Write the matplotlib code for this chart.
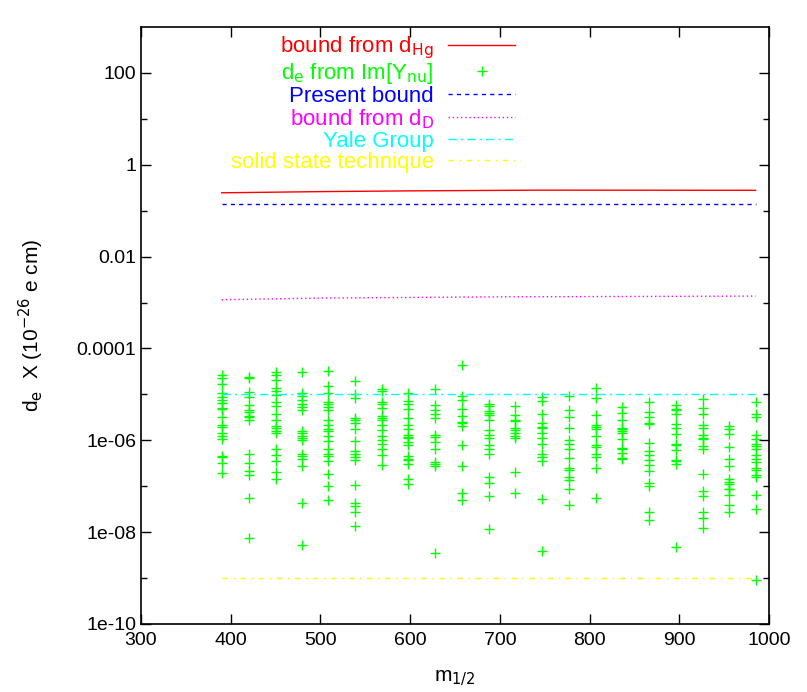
import matplotlib.pyplot as plt

plt.rcParams['font.family'] = ['Liberation Sans', 'DejaVu Sans']

# m_1/2 values of the scan columns
m_half = [390, 420, 450, 479, 509, 539, 569, 598, 628, 658, 688,
          717, 747, 777, 807, 836, 866, 896, 926, 955, 985]

# log10(d_e), one list per column
de_log10 = [
    [-4.57, -4.64, -4.78, -4.98, -5.05, -5.13, -5.19, -5.29, -5.31, -5.49,
     -5.66, -5.71, -5.84, -5.91, -5.98, -6.34, -6.36, -6.49, -6.72],
    [-4.62, -4.65, -4.95, -5.05, -5.24, -5.34, -5.38, -5.47, -5.50, -5.56,
     -6.30, -6.49, -6.67, -6.76, -7.25, -8.12],
    [-4.51, -4.57, -4.68, -4.87, -4.92, -5.02, -5.16, -5.26, -5.42, -5.56,
     -5.69, -5.74, -5.80, -5.85, -6.19, -6.32, -6.46, -6.69, -6.85],
    [-4.52, -4.98, -5.03, -5.13, -5.20, -5.27, -5.34, -5.80, -5.85, -5.91,
     -5.94, -6.00, -6.29, -6.35, -6.40, -6.56, -7.36, -8.29],
    [-4.49, -4.82, -4.98, -5.16, -5.20, -5.27, -5.34, -5.56, -5.67, -5.76,
     -5.80, -5.91, -6.02, -6.18, -6.29, -6.34, -6.46, -6.74, -6.99, -7.29],
    [-4.71, -5.00, -5.09, -5.51, -5.56, -5.63, -5.76, -6.02, -6.23, -6.29,
     -6.36, -6.42, -6.98, -7.36, -7.43, -7.56, -7.87],
    [-4.89, -4.93, -5.16, -5.20, -5.29, -5.47, -5.52, -5.56, -5.67, -5.78,
     -5.91, -6.00, -6.07, -6.18, -6.31, -6.54],
    [-4.96, -5.14, -5.21, -5.31, -5.52, -5.67, -5.76, -5.89, -5.93, -5.96,
     -6.03, -6.11, -6.35, -6.40, -6.43, -6.52, -6.85, -6.96],
    [-4.89, -5.24, -5.34, -5.43, -5.52, -5.89, -5.93, -6.03, -6.19, -6.47,
     -6.51, -6.56, -8.45],
    [-4.35, -5.04, -5.13, -5.32, -5.47, -5.60, -5.63, -5.69, -6.11, -6.56,
     -7.15, -7.29],
    [-5.21, -5.26, -5.36, -5.40, -5.45, -5.55, -5.78, -5.89, -5.96, -6.11,
     -6.20, -6.29, -6.80, -6.94, -7.22, -7.94],
    [-5.26, -5.45, -5.55, -5.58, -5.74, -5.78, -5.85, -5.91, -5.96, -6.69,
     -7.15],
    [-5.05, -5.14, -5.43, -5.63, -5.72, -5.74, -5.84, -5.94, -6.07, -6.30,
     -6.37, -6.45, -7.28, -8.42],
    [-5.04, -5.34, -5.49, -5.74, -6.00, -6.09, -6.18, -6.38, -6.61, -6.65,
     -6.80, -6.87, -7.05, -7.41],
    [-4.87, -5.09, -5.45, -5.66, -5.72, -5.76, -5.91, -6.11, -6.14, -6.30,
     -6.37, -6.61, -7.25],
    [-5.27, -5.40, -5.55, -5.73, -5.76, -5.80, -5.85, -5.98, -6.16, -6.20,
     -6.27, -6.38, -6.41],
    [-5.16, -5.38, -5.50, -5.62, -5.65, -6.06, -6.23, -6.32, -6.42, -6.54,
     -6.67, -6.94, -6.99, -7.56, -7.73],
    [-5.24, -5.31, -5.34, -5.42, -5.65, -5.74, -5.87, -6.07, -6.11, -6.22,
     -6.42, -6.46, -6.52, -8.32],
    [-5.10, -5.29, -5.43, -5.66, -5.74, -5.89, -5.94, -5.98, -6.13, -6.18,
     -6.74, -7.11, -7.22, -7.56, -7.70, -7.92],
    [-5.69, -5.76, -5.87, -6.14, -6.41, -6.56, -6.85, -6.91, -6.96, -7.05,
     -7.07, -7.20, -7.40, -7.56],
    [-5.16, -5.42, -5.49, -5.89, -5.98, -6.07, -6.13, -6.20, -6.32, -6.40,
     -6.47, -6.61, -6.65, -6.76, -6.80, -7.20, -7.49, -9.05],
]

# bound curves
hg_m = [390, 500, 600, 745, 985]
hg_bound = [0.245, 0.26, 0.27, 0.28, 0.278]
present_m = [390, 985]
present_bound = [0.14, 0.14]
dd_m = [390, 500, 700, 985]
dd_bound = [0.00115, 0.00125, 0.00133, 0.00138]
yale_m = [390, 985]
yale_bound = [1e-5, 1e-5]
solid_m = [390, 985]
solid_bound = [1e-9, 1e-9]

yticks = [1e-10, 1e-8, 1e-6, 1e-4, 1e-2, 1, 100]
ytick_labels = ['1e-10', '1e-08', '1e-06', '0.0001', '0.01', '1', '100']
yminor = [1e-9, 1e-7, 1e-5, 1e-3, 1e-1, 10]
xticks = [300, 400, 500, 600, 700, 800, 900, 1000]

fig = plt.figure(figsize=(8.07, 6.92), dpi=100)
ax = fig.add_axes([0.1747, 0.0983, 0.7782, 0.8627])

ax.plot(hg_m, hg_bound, color='red', lw=1, label='bound from d$_{\\mathrm{Hg}}$')

xs, ys = [], []
for m, col in zip(m_half, de_log10):
    for v in col:
        xs.append(m)
        ys.append(10 ** v)
ax.plot(xs, ys, ls='none', marker='+', ms=7.5, mew=1, color='#00ff00',
        label='d$_\\mathrm{e}$ from Im[Y$_{\\mathrm{nu}}$]')

ax.plot(present_m, present_bound, color='#0000ff', lw=1, dashes=(3, 3),
        label='Present bound')
ax.plot(dd_m, dd_bound, color='#ff00ff', lw=1, dashes=(1, 2),
        label='bound from d$_\\mathrm{D}$')
ax.plot(yale_m, yale_bound, color='#00ffff', lw=1, dashes=(6, 3, 1.5, 3),
        label='Yale Group')
ax.plot(solid_m, solid_bound, color='#ffff00', lw=1, dashes=(4, 4, 1, 4),
        label='solid state technique')

ax.set_yscale('log')
ax.set_xlim(300, 1000)
ax.set_ylim(1e-10, 1e3)
ax.set_xticks(xticks)
ax.set_xticklabels([str(t) for t in xticks])
ax.set_yticks(yticks)
ax.set_yticklabels(ytick_labels)
ax.set_yticks(yminor, minor=True)
ax.yaxis.set_minor_formatter(plt.NullFormatter())
ax.tick_params(which='major', direction='in', length=7, width=1,
               top=True, right=True, labelsize=14)
ax.tick_params(which='minor', direction='in', length=4, width=1,
               right=True)
ax.tick_params(axis='x', pad=6)
for s in ax.spines.values():
    s.set_linewidth(1.2)

ax.set_xlabel('m$_{1/2}$', fontsize=15, labelpad=14)
ax.set_ylabel('d$_\\mathrm{e}$  X (10$^{-26}$ e cm)', fontsize=15, labelpad=22)

leg = ax.legend(loc='upper right', bbox_to_anchor=(0.5955, 0.988),
                frameon=False, markerfirst=False, labelcolor='linecolor',
                fontsize=16, handlelength=3.0, handletextpad=0.65,
                labelspacing=0.0, borderpad=0, borderaxespad=0)

fig.savefig('out.png', dpi=100)
